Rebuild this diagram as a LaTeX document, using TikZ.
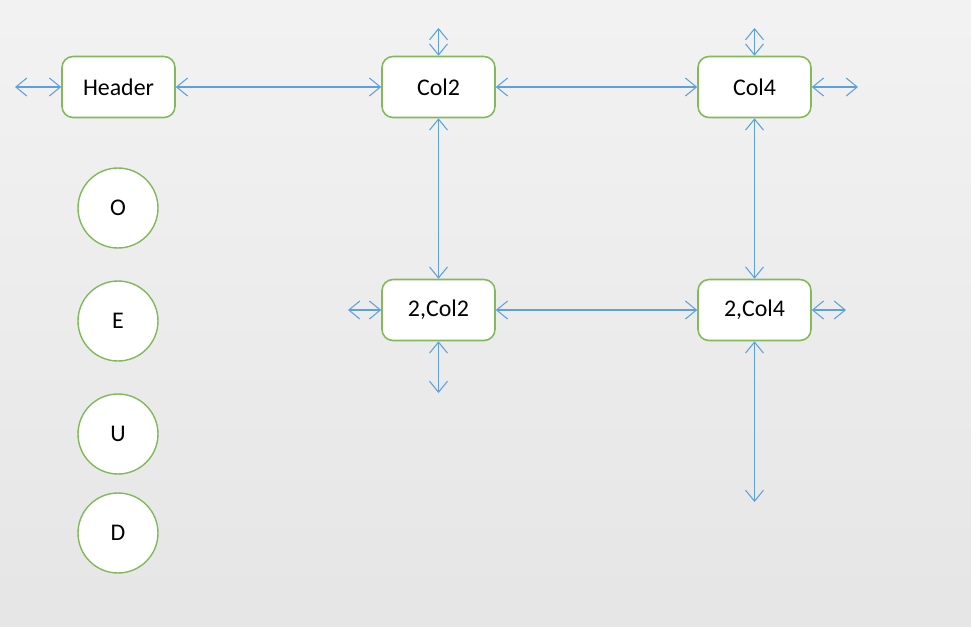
\documentclass[tikz,border=0pt]{standalone}
\usepackage{fontspec}
\setmainfont{Carlito}
\usetikzlibrary{arrows.meta}
\definecolor{boxgreen}{RGB}{130,185,90}
\definecolor{linkblue}{RGB}{95,160,220}

\begin{document}
\begin{tikzpicture}[x=0.02cm,y=-0.02cm,
  cell/.style={rectangle,rounded corners=2.2mm,draw=boxgreen,fill=white,line width=0.9pt,minimum width=2.26cm,minimum height=1.22cm,font=\fontsize{13.6}{15}\selectfont},
  flag/.style={circle,draw=boxgreen,fill=white,line width=0.8pt,minimum size=1.6cm,inner sep=0pt,font=\fontsize{13.6}{15}\selectfont},
  link/.style={draw=linkblue,line width=0.6pt,{Straight Barb[length=2.2mm,width=3.6mm]}-{Straight Barb[length=2.2mm,width=3.6mm]}}]
\def\rowA{87}
\def\rowB{310}
\def\colA{438.5}
\def\colB{754.5}
  % background
  \shade[top color=white!95!black,bottom color=white!90!black] (0,0) rectangle (971,626);
  \useasboundingbox (0,0) rectangle (971,626);
\path
(118.5,\rowA) node [cell] (head) {Header}
(\colA,\rowA) node [cell] (col2) {Col2}
(\colB,\rowA) node [cell] (col4) {Col4}
(\colA,\rowB) node [cell] (row2col2) {2,Col2}
(\colB,\rowB) node [cell] (row2col4) {2,Col4}
;
\path
(118,208) node [flag] (o) {O}
(118,321) node [flag] (e) {E}
(118,434) node [flag] (u) {U}
(118,533) node [flag] (d) {D}
;
  % loose ends
  \coordinate (headW) at (15,\rowA);
  \coordinate (col2N) at (\colA,28);
  \coordinate (col4N) at (\colB,28);
  \coordinate (col4E) at (858,\rowA);
  \coordinate (r2c2W) at (348,\rowB);
  \coordinate (r2c2S) at (\colA,393);
  \coordinate (r2c4E) at (846,\rowB);
  \coordinate (r2c4S) at (\colB,502);
  % links
  \draw[link] (headW) -- (head.west);
  \draw[link] (head) -- (col2);
  \draw[link] (col2N) -- (col2.north);
  \draw[link] (col2) -- (col4);
  \draw[link] (col4N) -- (col4.north);
  \draw[link] (col4.east) -- (col4E);
  \draw[link] (col2) -- (row2col2);
  \draw[link] (col4) -- (row2col4);
  \draw[link] (r2c2W) -- (row2col2.west);
  \draw[link] (row2col2) -- (row2col4);
  \draw[link] (row2col2.south) -- (r2c2S);
  \draw[link] (row2col4.east) -- (r2c4E);
  \draw[link] (row2col4.south) -- (r2c4S);
\end{tikzpicture}
\end{document}
